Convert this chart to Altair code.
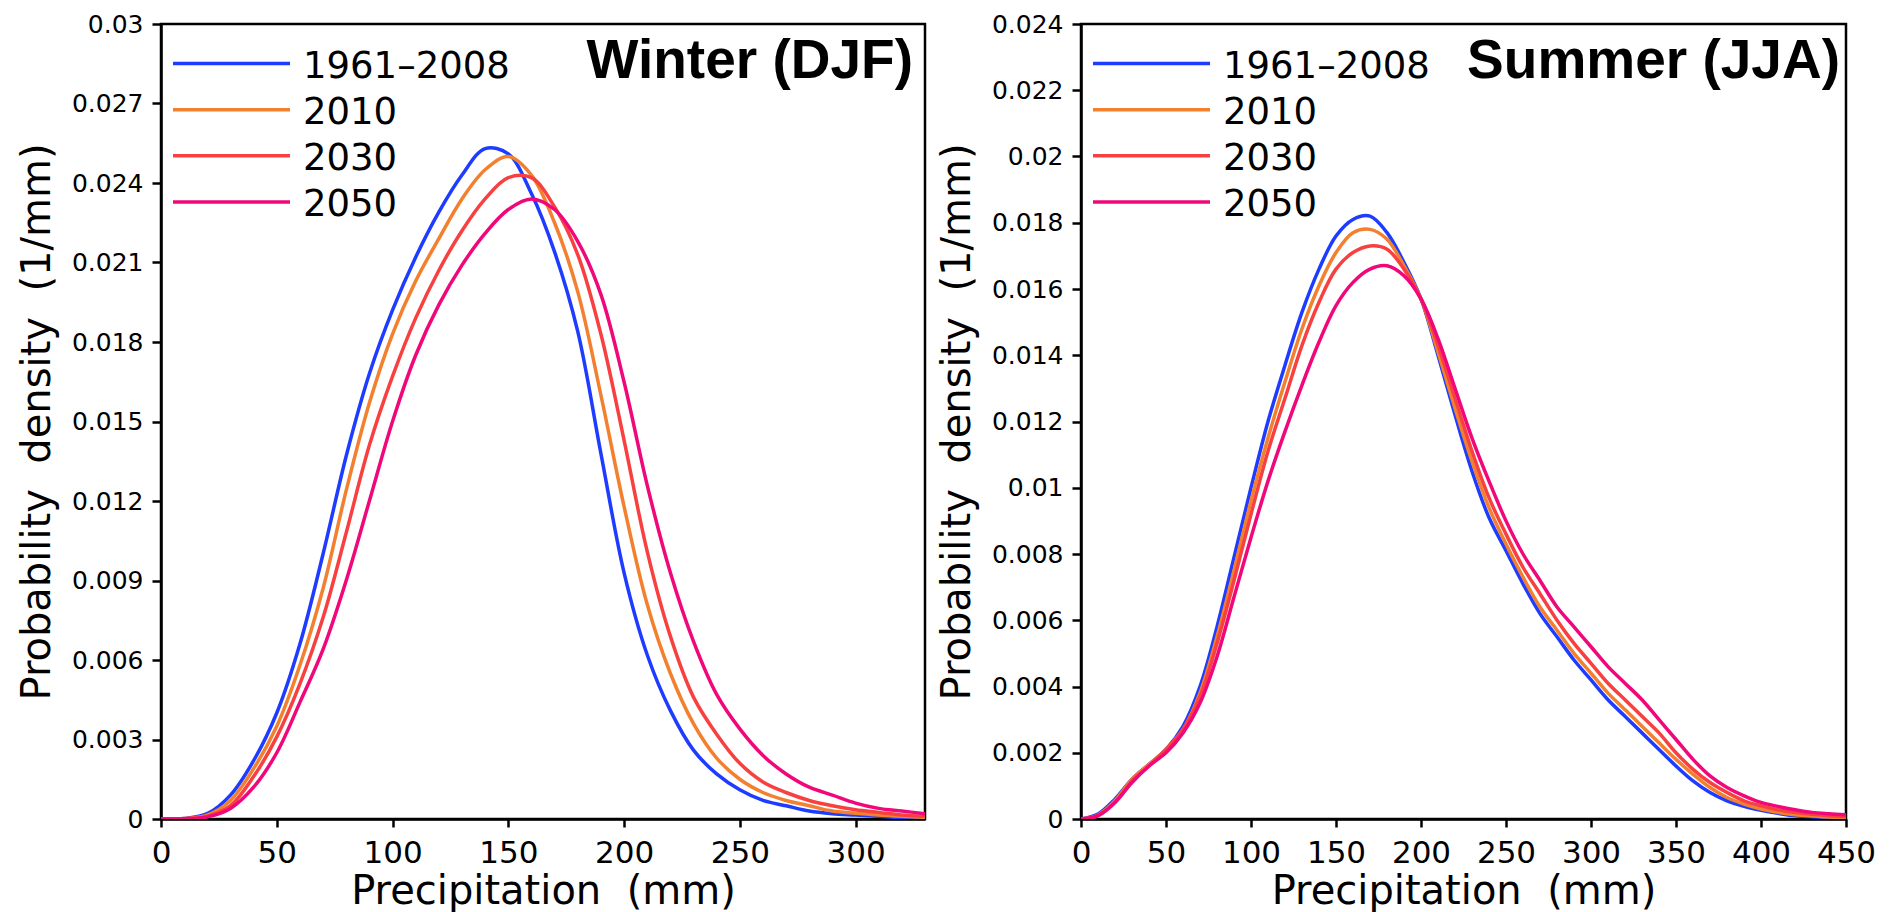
import altair as alt
import pandas as pd

SERIES = ["1961–2008", "2010", "2030", "2050"]
COLORS = ["#1E3CFF", "#F2802E", "#F84040", "#F0087A"]

# ---- Winter (DJF) ----
WINTER_X = list(range(0, 331, 10))
WINTER_1961_2008 = [0, 0.00002, 0.0002, 0.0009, 0.0022, 0.0040, 0.0066, 0.0100, 0.0137, 0.0168,
                    0.0192, 0.0212, 0.0229, 0.0243, 0.0253, 0.0251, 0.0236, 0.0214, 0.0184, 0.0138,
                    0.0093, 0.0062, 0.0041, 0.0026, 0.0017, 0.0011, 0.0007, 0.0005, 0.0003, 0.0002,
                    0.00015, 0.0001, 0.00005, 0.00003]
WINTER_2010 = [0, 0.00002, 0.00015, 0.0007, 0.0019, 0.0035, 0.0058, 0.0087, 0.0124, 0.0157,
               0.0183, 0.0203, 0.0219, 0.0234, 0.0245, 0.0250, 0.0243, 0.0225, 0.0199, 0.0160,
               0.0118, 0.0081, 0.0055, 0.0036, 0.0023, 0.0015, 0.0010, 0.0007, 0.0005, 0.0003,
               0.00022, 0.00015, 0.0001, 0.00006]
WINTER_2030 = [0, 0.00001, 0.0001, 0.0005, 0.0016, 0.0031, 0.0051, 0.0076, 0.0108, 0.0141,
               0.0167, 0.0189, 0.0207, 0.0222, 0.0234, 0.0242, 0.0242, 0.0231, 0.0213, 0.0183,
               0.0143, 0.0101, 0.0069, 0.0046, 0.0032, 0.0021, 0.0014, 0.0010, 0.0007, 0.0005,
               0.00035, 0.00025, 0.00015, 0.0001]
WINTER_2050 = [0, 0.00001, 0.00008, 0.0004, 0.0012, 0.0025, 0.0044, 0.0064, 0.0090, 0.0120,
               0.0150, 0.0175, 0.0194, 0.0209, 0.0221, 0.0230, 0.0234, 0.0230, 0.0218, 0.0198,
               0.0165, 0.0126, 0.0093, 0.0067, 0.0047, 0.0034, 0.0024, 0.0017, 0.0012, 0.0009,
               0.0006, 0.0004, 0.0003, 0.0002]

# ---- Summer (JJA) ----
SUMMER_X = list(range(0, 451, 10))
SUMMER_1961_2008 = [0, 0.00015, 0.0006, 0.0012, 0.00165, 0.0021, 0.0028, 0.0040, 0.0058, 0.0079,
                    0.0100, 0.0120, 0.0137, 0.0153, 0.0166, 0.0176, 0.0181, 0.0182, 0.0177, 0.0168,
                    0.0157, 0.0140, 0.0122, 0.0105, 0.0091, 0.0081, 0.0071, 0.0062, 0.0055, 0.0048,
                    0.0042, 0.0036, 0.0031, 0.0026, 0.0021, 0.0016, 0.00115, 0.0008, 0.00055, 0.00038,
                    0.00026, 0.00017, 0.0001, 0.00007, 0.00005, 0.00004]
SUMMER_2010 = [0, 0.00012, 0.00055, 0.0012, 0.00165, 0.0021, 0.0027, 0.0038, 0.0055, 0.0075,
               0.0096, 0.0115, 0.0132, 0.0148, 0.0161, 0.0171, 0.0177, 0.0178, 0.0175, 0.0167,
               0.0157, 0.0141, 0.0124, 0.0108, 0.0094, 0.0083, 0.0073, 0.0064, 0.0057, 0.0050,
               0.0044, 0.0038, 0.0033, 0.0028, 0.0023, 0.0018, 0.00135, 0.00095, 0.00065, 0.00045,
               0.0003, 0.0002, 0.00013, 0.00009, 0.00006, 0.00005]
SUMMER_2030 = [0, 0.0001, 0.0005, 0.00115, 0.0016, 0.0021, 0.0027, 0.0037, 0.0053, 0.0072,
               0.0092, 0.0111, 0.0127, 0.0143, 0.0156, 0.0166, 0.0171, 0.0173, 0.0172, 0.0166,
               0.0157, 0.0143, 0.0127, 0.0111, 0.0097, 0.0086, 0.0076, 0.0068, 0.0060, 0.0053,
               0.0047, 0.0041, 0.0036, 0.0031, 0.0026, 0.0020, 0.0015, 0.0011, 0.0008, 0.00055,
               0.0004, 0.00028, 0.0002, 0.00014, 0.0001, 0.00007]
SUMMER_2050 = [0, 0.0001, 0.0005, 0.0011, 0.0016, 0.0020, 0.0026, 0.0035, 0.0049, 0.0067,
               0.0085, 0.0102, 0.0117, 0.0131, 0.0144, 0.0155, 0.0162, 0.0166, 0.0167, 0.0164,
               0.0157, 0.0145, 0.0130, 0.0115, 0.0102, 0.0090, 0.0080, 0.0072, 0.0064, 0.0058,
               0.0052, 0.0046, 0.0041, 0.0036, 0.0030, 0.0024, 0.0018, 0.0013, 0.00095, 0.0007,
               0.0005, 0.00038, 0.00028, 0.0002, 0.00016, 0.00013]

WINTER_YTICKS = [round(0.003 * i, 3) for i in range(11)]
SUMMER_YTICKS = [round(0.002 * i, 3) for i in range(13)]

FONT = "DejaVu Sans"
X_TITLE = "Precipitation\u00a0\u00a0(mm)"
Y_TITLE = "Probability\u00a0\u00a0density\u00a0\u00a0(1/mm)"


def panel(xs, series_vals, xmax, ymax, yticks, title_text, width, height, title_x):
    rows = []
    for name, vals in zip(SERIES, series_vals):
        for x, v in zip(xs, vals):
            rows.append({"x": x, "y": v, "series": name})
    df = pd.DataFrame(rows)
    color = alt.Color("series:N", scale=alt.Scale(domain=SERIES, range=COLORS), legend=None)

    lines = alt.Chart(df).mark_line(strokeWidth=3.5, interpolate="catmull-rom", clip=True).encode(
        x=alt.X("x:Q", scale=alt.Scale(domain=[0, xmax], nice=False),
                axis=alt.Axis(values=list(range(0, xmax + 1, 50)), title=X_TITLE,
                              labelFontSize=31, labelPadding=11, tickSize=8,
                              titlePadding=3, labelFlush=False, labelOverlap=False)),
        y=alt.Y("y:Q", scale=alt.Scale(domain=[0, ymax], nice=False),
                axis=alt.Axis(values=yticks, format="~g", title=Y_TITLE,
                              labelFontSize=25, labelPadding=9, tickSize=9,
                              titlePadding=14, labelFlush=False, labelOverlap=False)),
        color=color,
    )

    leg = pd.DataFrame({"series": SERIES, "row": [0, 1, 2, 3]})
    ly = alt.Y("row:Q", scale=alt.Scale(domain=[0, 3], range=[39.6, 178]), axis=None)
    leg_rules = alt.Chart(leg).mark_rule(strokeWidth=3.5).encode(
        x=alt.value(12), x2=alt.value(129), y=ly, color=color)
    leg_text = alt.Chart(leg).mark_text(align="left", baseline="middle", fontSize=37,
                                        font=FONT, dy=3, color="black").encode(
        x=alt.value(142), y=ly, text="series:N")

    ttl = alt.Chart(pd.DataFrame({"t": [title_text]})).mark_text(
        align="right", baseline="alphabetic", fontSize=55, fontWeight="bold",
        font="Liberation Sans", color="black").encode(
        x=alt.value(title_x), y=alt.value(54), text="t:N")

    return alt.layer(lines, leg_rules, leg_text, ttl).resolve_scale(y="independent").properties(
        width=width, height=height)


left = panel(WINTER_X, [WINTER_1961_2008, WINTER_2010, WINTER_2030, WINTER_2050],
             330, 0.03, WINTER_YTICKS, "Winter (DJF)", 764, 795, 752)
right = panel(SUMMER_X, [SUMMER_1961_2008, SUMMER_2010, SUMMER_2030, SUMMER_2050],
              450, 0.024, SUMMER_YTICKS, "Summer (JJA)", 765, 795, 759)

chart = alt.hconcat(left, right, spacing=9).properties(
    padding={"left": 8, "top": 2, "right": 5, "bottom": 0},
    background="white",
).configure_view(stroke="black", strokeWidth=2.5).configure_axis(
    labelFont=FONT, titleFont=FONT, labelColor="black", titleColor="black",
    titleFontSize=40, titleFontWeight="normal", tickColor="black", tickWidth=2.5,
    domainColor="black", domainWidth=2.5, grid=False,
)

chart.save("out.html", embed_options={"renderer": "svg", "actions": False})
